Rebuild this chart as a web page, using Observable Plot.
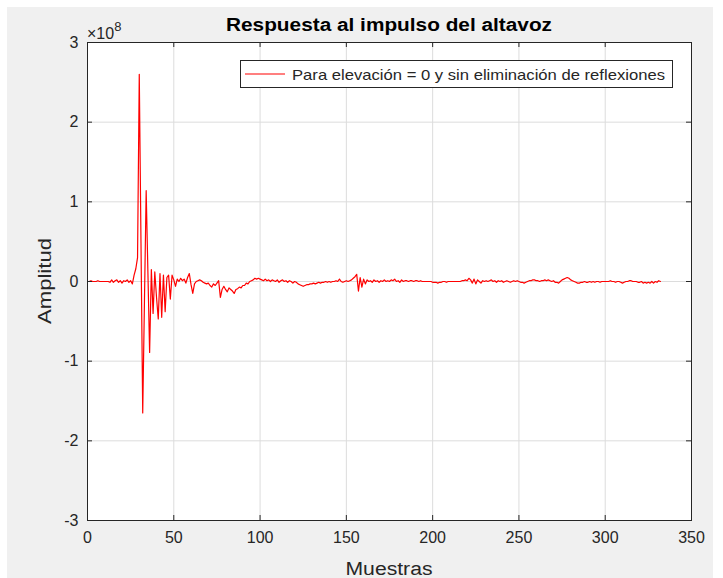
<!DOCTYPE html>
<html><head><meta charset="utf-8">
<script src="https://cdn.jsdelivr.net/npm/d3@7"></script>
<script src="https://cdn.jsdelivr.net/npm/@observablehq/plot@0.6"></script>
<style>
html,body{margin:0;padding:0;background:#fff;}
#wrap{position:relative;width:723px;height:578px;overflow:hidden;}
#bg{position:absolute;left:7px;top:7px;width:706px;height:571px;background:#f0f0f0;}
#chart{position:absolute;left:0;top:0;}
</style></head><body>
<div id="wrap"><div id="bg"></div><div id="chart"></div></div>
<script>
// ---- data ----
const xTicks = [0, 50, 100, 150, 200, 250, 300, 350];
const yTicks = [-3, -2, -1, 0, 1, 2, 3];
const yExponent = 8;
// amplitude per sample (samples 0..332), in units of 1e6
const amplitudeE6 = [
  0,0,1,0,0,0,1,0,0,0,
  0,0,0,-1,2,-1,1,2,-1,1,
  -2,1,0,2,-1,1,-3,8,16,30,
  260,48,-165,-25,114,12,-89,15,-40,12,
  -20,-47,10,-45,8,-38,5,8,-22,8,
  2,-6,3,0,4,1,3,-2,5,10,
  -4,-15,-3,0,1,2,1,-1,-2,-3,
  -2,-5,-7,-3,-5,-2,1,-20,-10,-6,
  -10,-13,-8,-10,-12,-15,-10,-9,-7,-8,
  -5,-5,-2,-3,0,1,2,4,3,4,
  3,2,1,3,1,2,0,2,1,0,
  2,-1,1,2,0,1,-1,1,0,-2,
  0,-1,-3,-4,-5,-6,-5,-4,-4,-3,
  -3,-2,-3,-2,-1,-2,-1,-1,0,-1,
  0,-1,0,0,1,0,3,0,-1,0,
  1,0,1,2,4,6,9,-12,5,-7,
  3,-3,2,0,1,-1,2,0,1,-1,
  1,0,2,0,1,0,2,1,3,0,
  1,-1,2,0,1,1,0,1,1,0,
  1,1,0,1,0,0,0,0,0,0,
  -1,-1,-1,-2,-1,-1,0,0,-1,0,
  0,0,0,0,0,0,0,1,1,2,
  1,4,2,-2,3,-3,2,0,-2,1,
  0,1,0,1,2,0,1,-1,1,0,
  1,-1,0,1,0,-1,0,1,0,1,
  0,-1,-1,-2,-1,0,1,1,2,2,
  1,1,0,1,1,2,1,2,1,0,
  1,-1,-1,-2,0,2,3,4,5,4,
  2,1,0,-1,-2,-2,-1,-1,0,-1,
  -1,0,-1,0,-1,0,0,-1,0,0,
  0,0,0,1,0,0,-1,0,0,-1,
  -2,-1,0,0,1,1,0,0,0,-1,
  -1,0,-2,-1,-2,-1,-2,0,-2,0,
  -1,1,0
];
const titleText = "Respuesta al impulso del altavoz";
const xLabel = "Muestras";
const yLabel = "Amplitud";
const legendLabel = "Para elevación = 0 y sin eliminación de reflexiones";

// ---- build ----
const samples = amplitudeE6.map((v, i) => ({muestra: i, amplitud: v / 100}));
const W = 723, H = 578, mL = 87, mR = 32, mT = 42, mB = 58;
const innerW = W - mL - mR, innerH = H - mT - mB;
const axisColor = "#262626";
const tick = 5;

const plot = Plot.plot({
  width: W, height: H,
  marginLeft: mL, marginRight: mR, marginTop: mT, marginBottom: mB,
  style: {background: "transparent", fontFamily: "'Liberation Sans', Arial, sans-serif", fontSize: "15px", color: axisColor, overflow: "visible"},
  x: {domain: [0, 350], ticks: xTicks, label: null},
  y: {domain: [-3, 3], ticks: yTicks, label: null},
  marks: [
    Plot.frame({fill: "white", stroke: null}),
    Plot.gridX(xTicks, {stroke: "#dcdcdc", strokeOpacity: 1}),
    Plot.gridY(yTicks, {stroke: "#dcdcdc", strokeOpacity: 1}),
    Plot.line(samples, {x: "muestra", y: "amplitud", stroke: "#ff0000", strokeWidth: 1.2}),
    Plot.tickX(xTicks, {x: d => d, insetTop: innerH - tick, stroke: axisColor}),
    Plot.tickX(xTicks, {x: d => d, insetBottom: innerH - tick, stroke: axisColor}),
    Plot.tickY(yTicks, {y: d => d, insetRight: innerW - tick, stroke: axisColor}),
    Plot.tickY(yTicks, {y: d => d, insetLeft: innerW - tick, stroke: axisColor}),
    Plot.axisX(xTicks, {tickSize: 0, tickPadding: 11, tickFormat: d => String(d), fill: axisColor, fontSize: 16}),
    Plot.axisY(yTicks, {tickSize: 0, tickPadding: 9, tickFormat: d => String(d), fill: axisColor, fontSize: 16}),
    Plot.frame({stroke: axisColor, strokeWidth: 1})
  ]
});
document.getElementById("chart").appendChild(plot);

const svg = d3.select(plot);
const font = "'Liberation Sans', Arial, sans-serif";
// title
svg.append("text").attr("x", 389).attr("y", 31).attr("text-anchor", "middle")
  .attr("font-family", font).attr("font-weight", "bold").attr("font-size", 18)
  .attr("fill", "#000").attr("textLength", 326).attr("lengthAdjust", "spacingAndGlyphs")
  .text(titleText);
// exponent
const ex = svg.append("text").attr("x", mL).attr("y", 39).attr("text-anchor", "start")
  .attr("font-family", font).attr("font-size", 16).attr("fill", axisColor);
ex.append("tspan").text("×10");
ex.append("tspan").attr("dy", -8).attr("font-size", 13).text(String(yExponent));
// axis labels
svg.append("text").attr("x", mL + innerW / 2).attr("y", 575).attr("text-anchor", "middle")
  .attr("font-family", font).attr("font-size", 18).attr("fill", axisColor)
  .attr("textLength", 87).attr("lengthAdjust", "spacingAndGlyphs").text(xLabel);
svg.append("text").attr("transform", `translate(51,${mT + innerH / 2}) rotate(-90)`)
  .attr("text-anchor", "middle")
  .attr("font-family", font).attr("font-size", 18).attr("fill", axisColor)
  .attr("textLength", 86).attr("lengthAdjust", "spacingAndGlyphs").text(yLabel);
// legend
const lg = svg.append("g");
lg.append("rect").attr("x", 240.5).attr("y", 60.5).attr("width", 432).attr("height", 27)
  .attr("fill", "white").attr("stroke", axisColor).attr("stroke-width", 1);
lg.append("line").attr("x1", 245).attr("x2", 285).attr("y1", 74).attr("y2", 74)
  .attr("stroke", "#ff0000").attr("stroke-width", 1.2);
lg.append("text").attr("x", 292).attr("y", 79.5).attr("text-anchor", "start")
  .attr("font-family", font).attr("font-size", 15)
  .attr("fill", axisColor).attr("textLength", 373).attr("lengthAdjust", "spacingAndGlyphs")
  .text(legendLabel);
</script>
</body></html>
